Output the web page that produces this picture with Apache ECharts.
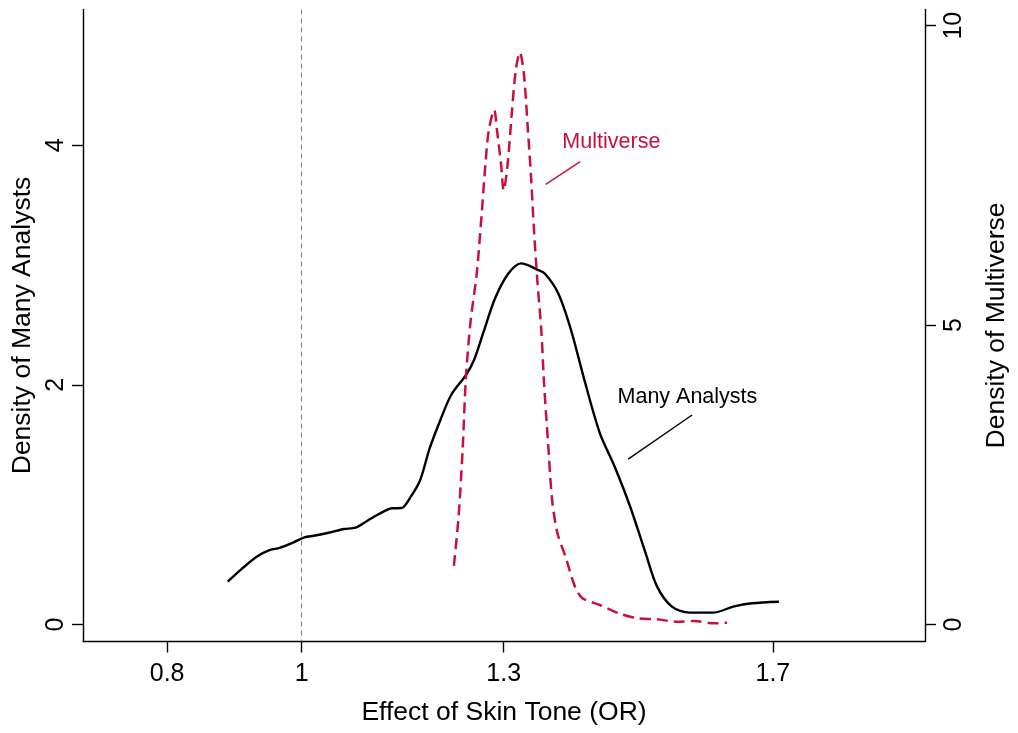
<!DOCTYPE html>
<html>
<head>
<meta charset="utf-8">
<script src="https://cdn.jsdelivr.net/npm/echarts@6/dist/echarts.min.js"></script>
<style>
html, body { margin: 0; padding: 0; background: #fff; }
#main { width: 1018px; height: 733px; }
</style>
</head>
<body>
<div id="main"></div>
<script>
// Many Analysts density (left axis)
var analystsX = [0.890, 0.910, 0.933, 0.953, 0.967, 0.987, 1.004, 1.018, 1.040, 1.063, 1.080, 1.097, 1.114, 1.134, 1.148,
	1.162, 1.176, 1.190, 1.205, 1.222, 1.244, 1.256, 1.270, 1.287, 1.307, 1.326, 1.336, 1.349, 1.361, 1.381, 1.400,
	1.420, 1.443, 1.465, 1.488, 1.511, 1.528, 1.550, 1.576, 1.612, 1.641, 1.669, 1.709];
var analystsY = [0.357, 0.46, 0.566, 0.622, 0.639, 0.683, 0.728, 0.741, 0.766, 0.797, 0.808, 0.864, 0.92, 0.97, 0.972,
	1.067, 1.206, 1.47, 1.693, 1.916, 2.083, 2.208, 2.44, 2.72, 2.93, 3.015, 3.0, 2.965, 2.93, 2.765, 2.46,
	2.04, 1.596, 1.317, 0.983, 0.594, 0.316, 0.149, 0.099, 0.099, 0.149, 0.177, 0.19];

// Multiverse density (right axis)
var multiverseX = [1.226, 1.233, 1.239, 1.244, 1.251, 1.260, 1.267, 1.273, 1.278, 1.286, 1.290, 1.296, 1.300, 1.306,
	1.312, 1.318, 1.324, 1.330, 1.336, 1.341, 1.345, 1.350, 1.356, 1.360, 1.366, 1.372, 1.380, 1.392, 1.406, 1.417,
	1.443, 1.471, 1.499, 1.528, 1.556, 1.584, 1.612, 1.632];
var multiverseY = [0.977, 1.80, 2.91, 4.14, 5.08, 5.86, 6.81, 7.70, 8.26, 8.59, 8.26, 7.70, 7.25, 7.70,
	8.53, 9.26, 9.55, 9.20, 8.26, 7.42, 6.59, 5.75, 4.9, 4.03, 3.03, 2.08, 1.52, 1.13, 0.63, 0.44,
	0.326, 0.187, 0.104, 0.087, 0.047, 0.058, 0.02, 0.03];

var xTicks = [0.8, 1, 1.3, 1.7];
var leftTicks = [0, 2, 4];
var rightTicks = [0, 5, 10];

var red = '#c8103e';
var font = 'Liberation Sans, Arial, sans-serif';

var pairs = function(xs, ys) {
	var out = [];
	for (var i = 0; i < xs.length; i++) {
		out.push([xs[i], ys[i]]);
	}
	return out;
};

var myChart = echarts.init(document.getElementById('main'));

var yAxisBase = function(ticks, min, max, name, pos, gap, margin) {
	return {
		type: 'value',
		position: pos,
		min: min,
		max: max,
		name: name,
		nameLocation: 'middle',
		nameGap: gap,
		nameTextStyle: { fontSize: 26.5, color: '#000', fontFamily: font },
		axisLine: { show: true, lineStyle: { color: '#000', width: 1.4 } },
		axisTick: { show: true, length: 11, customValues: ticks, lineStyle: { color: '#000', width: 1.4 } },
		axisLabel: { customValues: ticks, rotate: 90, margin: margin, fontSize: 25, color: '#000', fontFamily: font },
		splitLine: { show: false }
	};
};

option = {
	animation: false,
	backgroundColor: '#fff',
	grid: {
		left: 83,
		right: 90,
		top: 9.5,
		bottom: 91.5
	},
	xAxis: {
		type: 'value',
		min: 0.675,
		max: 1.926,
		name: 'Effect of Skin Tone (OR)',
		nameLocation: 'middle',
		nameGap: 58,
		nameTextStyle: { fontSize: 26.5, color: '#000', fontFamily: font },
		axisLine: { show: true, onZero: false, lineStyle: { color: '#000', width: 1.4 } },
		axisTick: { show: true, length: 11, customValues: xTicks, lineStyle: { color: '#000', width: 1.4 } },
		axisLabel: { customValues: xTicks, margin: 20, fontSize: 25, color: '#000', fontFamily: font },
		splitLine: { show: false }
	},
	yAxis: [
		yAxisBase(leftTicks, -0.142, 5.134, 'Density of Many Analysts', 'left', 40, 14),
		yAxisBase(rightTicks, -0.284, 10.27, 'Density of Multiverse', 'right', 58, 17)
	],
	series: [
		{
			name: 'Many Analysts',
			type: 'line',
			yAxisIndex: 0,
			data: pairs(analystsX, analystsY),
			smooth: 0.3,
			showSymbol: false,
			lineStyle: { color: '#000', width: 2.4 },
			markLine: {
				silent: true,
				symbol: 'none',
				label: { show: false },
				data: [
					[{ xAxis: 1, yAxis: 5.134, lineStyle: { color: '#808080', width: 1.1, type: [5, 4] } },
					 { xAxis: 1, yAxis: -0.142 }],
					[{ coord: [1.485, 1.381], lineStyle: { color: '#000', width: 1.4, type: 'solid' } },
					 { coord: [1.580, 1.749] }]
				]
			},
			markPoint: {
				silent: true,
				symbolSize: 0,
				label: { show: true, position: 'inside', color: '#000', fontSize: 21.5, fontFamily: font },
				data: [{ coord: [1.573, 1.899], label: { formatter: 'Many Analysts' } }]
			}
		},
		{
			name: 'Multiverse',
			type: 'line',
			yAxisIndex: 1,
			data: pairs(multiverseX, multiverseY),
			smooth: 0.3,
			showSymbol: false,
			lineStyle: { color: red, width: 2.5, type: [11, 6] },
			markLine: {
				silent: true,
				symbol: 'none',
				label: { show: false },
				data: [
					[{ coord: [1.3625, 7.35], lineStyle: { color: red, width: 1.4, type: 'solid' } },
					 { coord: [1.4137, 7.73] }]
				]
			},
			markPoint: {
				silent: true,
				symbolSize: 0,
				label: { show: true, position: 'inside', color: red, fontSize: 21.5, fontFamily: font },
				data: [{ coord: [1.46, 8.055], label: { formatter: 'Multiverse' } }]
			}
		}
	]
};

myChart.setOption(option);
</script>
</body>
</html>
